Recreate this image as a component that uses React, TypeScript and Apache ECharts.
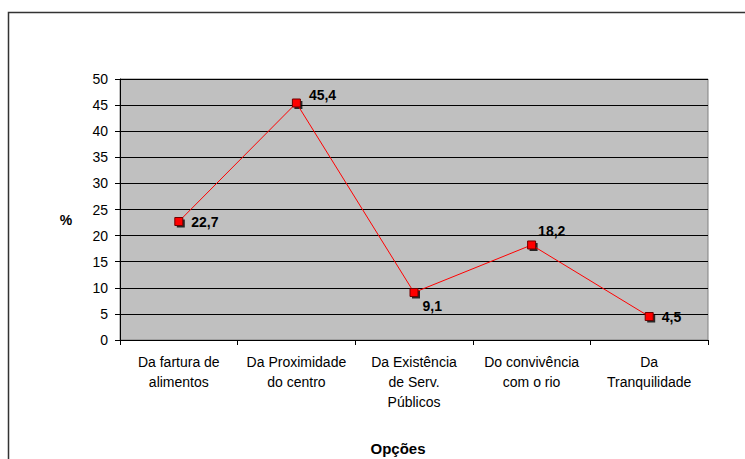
import React, { useEffect, useRef } from "react";
import * as echarts from "echarts";

const categories = [
  "Da fartura de\nalimentos",
  "Da Proximidade\ndo centro",
  "Da Existência\nde Serv.\nPúblicos",
  "Do convivência\ncom o rio",
  "Da\nTranquilidade",
];
const values = [22.7, 45.4, 9.1, 18.2, 4.5];
const valueLabels = ["22,7", "45,4", "9,1", "18,2", "4,5"];
// per-point label nudges (px) relative to the right side of the marker
const labelOffsets: [number, number][] = [
  [3, 0],
  [3, -8],
  [-1, 14],
  [-3, -14],
  [3, 0],
];

const FONT = "'Liberation Sans', Arial, Helvetica, sans-serif";

export default function App() {
  const ref = useRef<HTMLDivElement>(null);

  useEffect(() => {
    if (!ref.current) return;
    const chart = echarts.init(ref.current, undefined, { renderer: "svg" });

    const lineData = values.map((v, i) => ({
      value: v,
      label: {
        show: true,
        position: "right",
        offset: labelOffsets[i],
        formatter: () => valueLabels[i],
      },
    }));

    chart.setOption({
      animation: false,
      backgroundColor: "#ffffff",
      textStyle: { fontFamily: FONT },
      grid: {
        left: 120,
        top: 79,
        width: 588,
        height: 261,
        show: true,
        backgroundColor: "#c0c0c0",
        borderColor: "#808080",
        borderWidth: 1,
      },
      xAxis: {
        type: "category",
        data: categories,
        boundaryGap: true,
        axisLine: { show: true, lineStyle: { color: "#000", width: 1 } },
        axisTick: { show: true, length: 5, lineStyle: { color: "#000" } },
        axisLabel: {
          color: "#000",
          fontSize: 14,
          lineHeight: 20,
          margin: 12,
          fontFamily: FONT,
          interval: 0,
        },
        splitLine: { show: false },
      },
      yAxis: {
        type: "value",
        min: 0,
        max: 50,
        interval: 5,
        axisLine: { show: true, lineStyle: { color: "#000", width: 1 } },
        axisTick: { show: true, length: 5, lineStyle: { color: "#000" } },
        axisLabel: { color: "#000", fontSize: 14, margin: 12, fontFamily: FONT },
        splitLine: { show: true, lineStyle: { color: "#000", width: 1 } },
      },
      series: [
        {
          // dark drop shadow behind each marker
          type: "scatter",
          data: values,
          symbol: "rect",
          symbolSize: 8,
          symbolOffset: [2, 2],
          itemStyle: { color: "#000" },
          z: 1,
          silent: true,
        },
        {
          type: "line",
          data: lineData,
          symbol: "rect",
          symbolSize: 8,
          showAllSymbol: true,
          lineStyle: { color: "#ff0000", width: 1 },
          itemStyle: { color: "#ff0000", borderColor: "#700000", borderWidth: 1 },
          label: {
            color: "#000",
            fontSize: 14,
            fontWeight: "bold",
            fontFamily: FONT,
          },
          z: 2,
        },
      ],
      graphic: [
        {
          type: "rect",
          shape: { x: 8.5, y: 12.5, width: 800, height: 500 },
          style: { fill: "none", stroke: "#333", lineWidth: 1.5 },
          silent: true,
        },
        {
          type: "text",
          x: 66,
          y: 220,
          style: {
            text: "%",
            fontSize: 14,
            fontWeight: "bold",
            fontFamily: FONT,
            fill: "#000",
            align: "center",
            verticalAlign: "middle",
          },
        },
        {
          type: "text",
          x: 398,
          y: 448,
          style: {
            text: "Opções",
            fontSize: 15,
            fontWeight: "bold",
            fontFamily: FONT,
            fill: "#000",
            align: "center",
            verticalAlign: "middle",
          },
        },
      ],
    });

    return () => chart.dispose();
  }, []);

  return (
    <div
      ref={ref}
      style={{ position: "fixed", left: 0, top: 0, width: 745, height: 459 }}
    />
  );
}
